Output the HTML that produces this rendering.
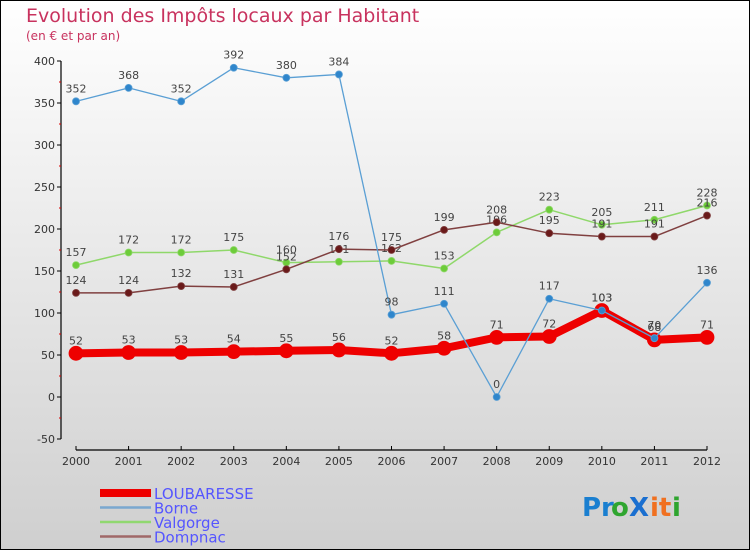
<!DOCTYPE html>
<html><head><meta charset="utf-8"><style>
body{margin:0;}
#wrap{position:relative;width:750px;height:550px;overflow:hidden;}
svg text{font-family:"DejaVu Sans","Liberation Sans",sans-serif;}
</style></head><body>
<div id="wrap">
<svg id="chart" width="750" height="550" xmlns="http://www.w3.org/2000/svg">
<defs><linearGradient id="bg" x1="0" y1="0" x2="0" y2="1"><stop offset="0" stop-color="#ffffff"/><stop offset="1" stop-color="#cfcfcf"/></linearGradient></defs>
<rect x="0.5" y="0.5" width="749" height="549" fill="url(#bg)" stroke="#000"/>
<text x="26" y="22" font-size="19" fill="#c8325e">Evolution des Impôts locaux par Habitant</text>
<text x="26" y="40" font-size="12" fill="#c8325e">(en € et par an)</text>
<g id="axes"></g>
<g id="series"></g>
<g id="legend"></g>
<g font-size="26" font-weight="bold">
<text x="582" y="516" fill="#1a7fd0">Pr</text><text x="611" y="516" fill="#2fa52f">o</text><text x="629" y="516" fill="#1a6fd0">X</text><text x="650" y="516" fill="#f07020">it</text><text x="672" y="516" fill="#2fa52f">i</text>
</g>
</svg>
</div>
<script>
const years=[2000,2001,2002,2003,2004,2005,2006,2007,2008,2009,2010,2011,2012];
const yTicks=[-50,0,50,100,150,200,250,300,350,400];
const loubaresse=[52,53,53,54,55,56,52,58,71,72,103,68,71];
const borne=[352,368,352,392,380,384,98,111,0,117,103,70,136];
const valgorge=[157,172,172,175,160,161,162,153,196,223,205,211,228];
const dompnac=[124,124,132,131,152,176,175,199,208,195,191,191,216];

const NS="http://www.w3.org/2000/svg";
function xs(i){return 76+(707-76)*(i/(years.length-1));}
function ys(v){return 397-v*0.84;}
function mk(tag,attrs,parent){const e=document.createElementNS(NS,tag);for(const k in attrs)e.setAttribute(k,attrs[k]);parent.appendChild(e);return e;}
const axes=document.getElementById('axes');
let yl=mk('line',{x1:61,y1:ys(400),x2:61,y2:ys(-50),stroke:'#000','stroke-width':1.2},axes);


yTicks.forEach((t,i)=>{
  mk('line',{x1:57,y1:ys(t),x2:61,y2:ys(t),stroke:'#000'},axes);
  let tx=mk('text',{x:55,y:ys(t)+4,'font-size':11,'text-anchor':'end',fill:'#333'},axes);
  tx.textContent=t;
  
  
  if(i<yTicks.length-1) mk('line',{x1:59,y1:ys(t+25),x2:61,y2:ys(t+25),stroke:'#d00'},axes);
});
let xl=mk('line',{x1:76,y1:450,x2:707,y2:450,stroke:'#000','stroke-width':1.2},axes);


years.forEach((y,i)=>{
  mk('line',{x1:xs(i),y1:446,x2:xs(i),y2:450,stroke:'#000'},axes);
  let tx=mk('text',{x:xs(i),y:465,'font-size':11,'text-anchor':'middle',fill:'#333'},axes);
  tx.textContent=y;
  
  
});
const ser=document.getElementById('series');
function draw(data,color,dot,w,r,name){
  const g=mk('g',{},ser);
  
  
  let p=mk('polyline',{points:data.map((v,i)=>xs(i)+','+ys(v)).join(' '),fill:'none',stroke:color,'stroke-width':w,'stroke-linejoin':'round'},g);
  
  
  data.forEach((v,i)=>{
    let c=mk('circle',{cx:xs(i),cy:ys(v),r:r,fill:dot,stroke:color,'stroke-width':0.8},g);
    
    
    let t=mk('text',{x:xs(i),y:ys(v)-9,'font-size':11,'text-anchor':'middle',fill:'#444'},g);
    t.textContent=v;
    
    
  });
}
draw(valgorge,'#8fd86a','#6dcc3a',1.5,3.5,'valgorge');
draw(dompnac,'#804040','#6a1a1a',1.5,3.5,'dompnac');
draw(loubaresse,'#ee0000','#ee0000',8,7,'loubaresse');
draw(borne,'#5a9fd4','#2f86cc',1.3,3.5,'borne');
const lg=document.getElementById('legend');
const names=['LOUBARESSE','Borne','Valgorge','Dompnac'];
const cols=['#ee0000','#7aa8d0','#90d870','#a06868'];
names.forEach((n,i)=>{
  const y=493+i*14.5;
  const g=mk('g',{},lg);
  
  
  mk('line',{x1:100,y1:y,x2:151,y2:y,stroke:cols[i],'stroke-width':i==0?8:2.5},g);
  let t=mk('text',{x:154,y:y+6,'font-size':15,fill:'#5555ff'},g);
  t.textContent=n;
});
</script>
</body></html>
